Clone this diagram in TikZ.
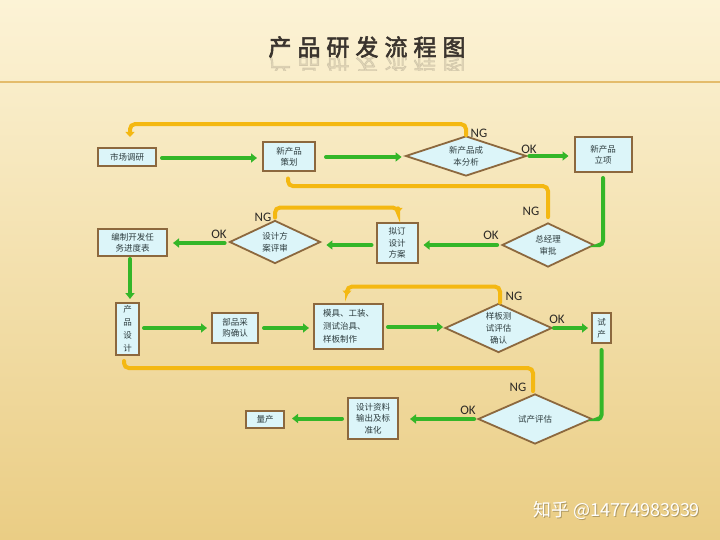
\documentclass[tikz,border=0pt]{standalone}
\usepackage{fontspec}
\usetikzlibrary{arrows.meta,shapes.geometric,calc}
\newfontfamily\cjk{Noto Sans CJK SC}
\newfontfamily\cjktitle[FakeBold=2.5]{Noto Sans CJK SC}
\newfontfamily\labfont{Carlito}
\definecolor{bgtop}{RGB}{252,243,214}
\definecolor{bgmid}{RGB}{247,230,178}
\definecolor{bgbot}{RGB}{234,205,132}
\definecolor{goldline}{RGB}{228,188,108}
\definecolor{boxbrown}{RGB}{140,104,62}
\definecolor{boxfill}{RGB}{220,245,249}
\definecolor{boxtext}{RGB}{45,60,62}
\definecolor{arrgreen}{RGB}{52,182,40}
\definecolor{arryellow}{RGB}{244,184,18}
\definecolor{labtext}{RGB}{45,42,38}
\definecolor{titletext}{RGB}{58,52,46}
\tikzset{
  box/.style={draw=boxbrown, line width=2pt, fill=boxfill, text=boxtext,
    font=\cjk\fontsize{8.5}{11.5}\selectfont, inner sep=0pt, align=center},
  dia/.style={diamond, draw=boxbrown, line width=1.8pt, fill=boxfill, text=boxtext,
    font=\cjk\fontsize{8.5}{12}\selectfont, inner sep=0pt, align=center},
  garrow/.style={draw=arrgreen, line width=4pt, line cap=round,
    -{Triangle[length=6pt,width=9pt]}},
  gline/.style={draw=arrgreen, line width=4pt, line cap=round, rounded corners=4pt},
  yline/.style={draw=arryellow, line width=4pt, line cap=round, rounded corners=5pt},
  yarrow/.style={yline, -{Triangle[length=5pt,width=9pt]}},
  lab/.style={font=\labfont\fontsize{13}{13}\selectfont, text=labtext, inner sep=0pt},
}
\begin{document}
\begin{tikzpicture}[x=1pt,y=-1pt]
\useasboundingbox (0,0) rectangle (720,540);
\shade[top color=bgtop, middle color=bgmid, bottom color=bgbot] (0,0) rectangle (720,540);
% title
\node[font=\cjktitle\fontsize{23}{23}\selectfont, text=titletext, inner sep=0pt] (title) at (367,47)
  {产\hspace{6pt}品\hspace{6pt}研\hspace{6pt}发\hspace{6pt}流\hspace{6pt}程\hspace{6pt}图};
\begin{scope}
  \clip (200,57) rectangle (540,71);
  \begin{scope}[shift={(367,66)}, yscale=-1]
    \node[transform shape, font=\cjktitle\fontsize{23}{23}\selectfont, text=titletext, text opacity=0.13, inner sep=0pt] (titlerefl) at (0,0)
      {产\hspace{6pt}品\hspace{6pt}研\hspace{6pt}发\hspace{6pt}流\hspace{6pt}程\hspace{6pt}图};
  \end{scope}
\end{scope}
\draw[goldline, line width=2.5pt] (0,82) -- (720,82);

% row 1
\node[box, minimum width=58pt, minimum height=18pt] (mkt) at (127,157) {市场调研};
\node[box, minimum width=52pt, minimum height=29pt] (plan) at (289,157) {新产品\\策划};
\node[dia, shape aspect=3, minimum width=121pt, minimum height=40pt] (cost) at (466,156) {新产品成\\本分析};
\node[box, minimum width=57pt, minimum height=35pt] (appr) at (603,154.5) {新产品\\立项};
% row 2
\node[dia, shape aspect=2, minimum width=92pt, minimum height=44pt] (boss) at (548,245) {总经理\\审批};
\node[box, minimum width=41pt, minimum height=40pt] (draft) at (397,243) {拟订\\设计\\方案};
\node[dia, shape aspect=2, minimum width=91pt, minimum height=43pt] (review) at (275,242) {设计方\\案评审};
\node[box, minimum width=69pt, minimum height=27pt] (sched) at (132.5,242.5) {编制开发任\\务进度表};
% row 3
\node[box, minimum width=23pt, minimum height=52pt, font=\cjk\fontsize{8.5}{13}\selectfont] (design) at (127.5,329) {产\\品\\设\\计};
\node[box, minimum width=46pt, minimum height=30pt] (buy) at (235,328) {部品采\\购确认};
\node[box, minimum width=69pt, minimum height=45pt, align=left, font=\cjk\fontsize{8.5}{13}\selectfont] (mold) at (348.5,326) {模具、工装、\\测试治具、\\样板制作};
\node[dia, shape aspect=2.2, minimum width=107pt, minimum height=49pt] (sample) at (498.5,328) {样板测\\试评估\\确认};
\node[box, minimum width=19pt, minimum height=30pt, font=\cjk\fontsize{8.5}{12}\selectfont] (trial) at (601.5,328) {试\\产};
% row 4
\node[dia, shape aspect=3, minimum width=114pt, minimum height=50pt] (teval) at (535,419) {试产评估};
\node[box, minimum width=50pt, minimum height=41pt] (doc) at (373,418.5) {设计资料\\输出及标\\准化};
\node[box, minimum width=38pt, minimum height=17pt] (mass) at (265,419) {量产};

% green connectors
\draw[garrow] ($(mkt.east)+(5,1)$) -- ($(mkt.east -| plan.west)+(-5,1)$);
\draw[garrow] ($(plan.east)+(10,0)$) -- ($(plan.east -| cost.west)+(-3,0)$);
\draw[garrow] ($(cost.east)+(2,0)$) -- ($(cost.east -| appr.west)+(-5,0)$);
\draw[gline] ($(appr.south)+(0,5)$) |- ($(boss.east)+(5,0)$);
\draw[garrow] ($(boss.west)+(-4,0)$) -- ($(boss.west -| draft.east)+(5,0)$);
\draw[garrow] ($(draft.west)+(-4,2)$) -- ($(draft.west -| review.east)+(5,2)$);
\draw[garrow] ($(review.west)+(-4,1)$) -- ($(review.west -| sched.east)+(5,1)$);
\draw[garrow] ($(sched.south)+(-2.5,2)$) -- ($(design.north)+(2.5,-3)$);
\draw[garrow] ($(design.east)+(4,-1)$) -- ($(design.east -| buy.west)+(-4,-1)$);
\draw[garrow] ($(buy.east)+(5,0)$) -- ($(buy.east -| mold.west)+(-4,0)$);
\draw[garrow] ($(mold.east)+(4,1)$) -- ($(mold.east -| sample.west)+(-1,1)$);
\draw[garrow] ($(sample.east)+(1,0)$) -- ($(sample.east -| trial.west)+(-3,0)$);
\draw[gline] ($(trial.south)+(0,6)$) |- ($(teval.east)+(6,0)$);
\draw[garrow] ($(teval.west)+(-3,0)$) -- ($(teval.west -| doc.east)+(11,0)$);
\draw[garrow] ($(doc.west)+(-5,0)$) -- ($(doc.west -| mass.east)+(7,0)$);

% yellow NG loops
\draw[yarrow] (cost.north) -- ++(0,-11) -| ($(mkt.north)+(3,-10)$);
\draw[yline] ($(boss.north)+(0,-5)$) -- ($(boss.north)+(0,-36)$) -| ($(plan.south)+(-1,6)$);
\draw[yarrow] ($(review.north)+(0,-2)$) -- ++(0,-10) -| ($(draft.north)+(1,-9)$);
\draw[yarrow] ($(sample.north)+(1.5,0)$) -- ++(0,-16) -| ($(mold.north)+(-1.5,-7)$);
\draw[yline] ($(teval.north)+(-2,-2)$) -- ($(teval.north)+(-2,-25)$) -| ($(design.south)+(-3.5,5)$);

% labels
\node[lab] (ng1) at (479,133) {NG};
\node[lab] (ok1) at (529,149) {OK};
\node[lab] (ng2) at (531,211) {NG};
\node[lab] (ok2) at (491,235) {OK};
\node[lab] (ng3) at (263,217) {NG};
\node[lab] (ok3) at (219,234) {OK};
\node[lab] (ng4) at (514,296) {NG};
\node[lab] (ok4) at (557,319) {OK};
\node[lab] (ng5) at (518,387) {NG};
\node[lab] (ok5) at (468,410) {OK};

% watermark
\node[font=\cjk\fontsize{18}{18}\selectfont, text=black, text opacity=0.25, inner sep=0pt] (wmshadow) at (617.5,511.5) {知乎 @14774983939};
\node[font=\cjk\fontsize{18}{18}\selectfont, text=white, inner sep=0pt] (wm) at (616.5,510) {知乎 @14774983939};
\end{tikzpicture}
\end{document}
